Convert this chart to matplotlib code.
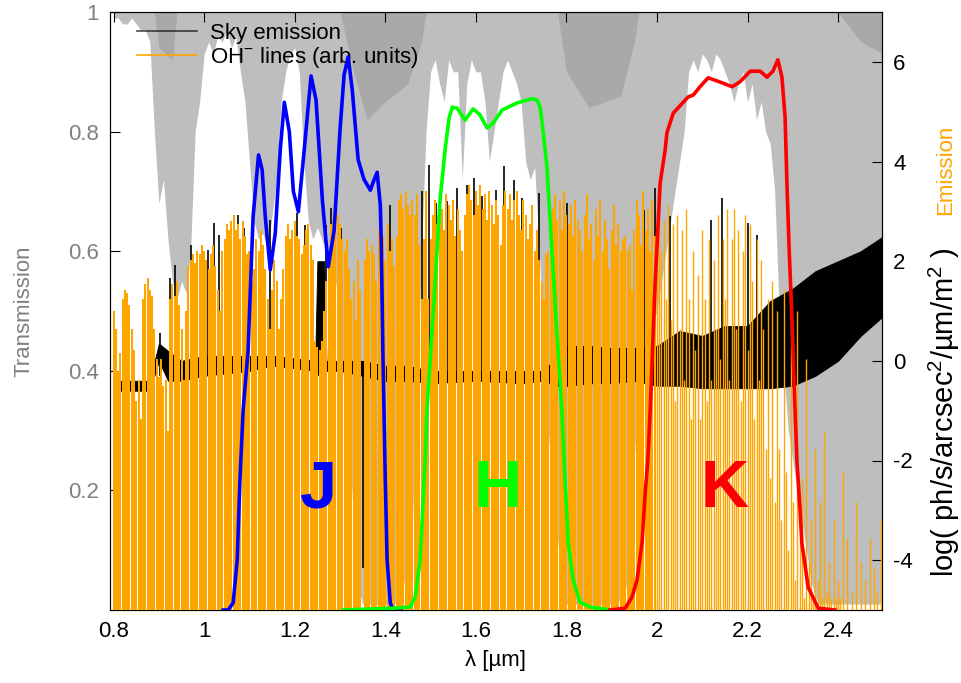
import numpy as np
import matplotlib
matplotlib.use("Agg")
import matplotlib.pyplot as plt
from matplotlib.lines import Line2D

plt.rcParams['font.family'] = ['Liberation Sans', 'DejaVu Sans']
plt.rcParams['mathtext.fontset'] = 'custom'
plt.rcParams['mathtext.rm'] = 'Liberation Sans'
plt.rcParams['mathtext.it'] = 'Liberation Sans:italic'
plt.rcParams['axes.unicode_minus'] = False

# atmospheric transmission, sampled every 0.01 um from 0.80 to 2.50
trans_lam = np.round(np.arange(0.80, 2.505, 0.01), 2)
trans_val = [
    0.99, 0.99, 0.98, 0.98, 0.99, 0.98, 0.97, 0.97, 0.95, 0.80,
    0.68, 0.72, 0.62, 0.55, 0.52, 0.55, 0.53, 0.60, 0.80, 0.85,
    0.93, 0.95, 0.93, 0.96, 0.95, 0.97, 0.94, 0.96, 0.90, 0.85,
    0.75, 0.65, 0.62, 0.63, 0.60, 0.66, 0.72, 0.85, 0.90, 0.93,
    0.94, 0.90, 0.75, 0.65, 0.62, 0.64, 0.62, 0.60, 0.58, 0.55,
    0.50, 0.35, 0.28, 0.15, 0.04, 0.01, 0.01, 0.01, 0.01, 0.01,
    0.01, 0.01, 0.01, 0.02, 0.04, 0.08, 0.15, 0.35, 0.60, 0.80,
    0.90, 0.92, 0.88, 0.85, 0.92, 0.90, 0.90, 0.72, 0.88, 0.92,
    0.90, 0.90, 0.85, 0.75, 0.80, 0.85, 0.90, 0.92, 0.90, 0.88,
    0.85, 0.75, 0.72, 0.74, 0.60, 0.45, 0.30, 0.20, 0.12, 0.06,
    0.01, 0.01, 0.01, 0.01, 0.01, 0.01, 0.01, 0.01, 0.01, 0.01,
    0.01, 0.01, 0.02, 0.03, 0.08, 0.25, 0.40, 0.45, 0.50, 0.48,
    0.50, 0.55, 0.60, 0.65, 0.70, 0.75, 0.80, 0.90, 0.92, 0.90,
    0.93, 0.92, 0.90, 0.93, 0.92, 0.90, 0.88, 0.85, 0.88, 0.90,
    0.85, 0.88, 0.82, 0.85, 0.80, 0.78, 0.70, 0.50, 0.40, 0.30,
    0.25, 0.20, 0.15, 0.10, 0.05, 0.02, 0.01, 0.01, 0.01, 0.01,
    0.01, 0.01, 0.01, 0.01, 0.01, 0.01, 0.01, 0.01, 0.01, 0.01,
    0.01,
]

# second (wetter) transmission case, darker gray near the top
dark_lam = [0.80, 0.89, 0.90, 0.93, 0.94, 1.30, 1.33, 1.36, 1.40, 1.45,
            1.48, 1.49, 1.78, 1.80, 1.85, 1.92, 1.95, 1.96, 2.40, 2.45, 2.50]
dark_val = [1.0, 1.0, 0.94, 0.92, 1.0, 1.0, 0.90, 0.82, 0.85, 0.88,
            0.95, 1.0, 1.0, 0.90, 0.84, 0.86, 0.95, 1.0, 1.0, 0.95, 0.93]

# OH lines (arb. units), every 0.005 um from 0.800 to 2.495
oh_lam = np.round(np.arange(0.800, 2.4975, 0.005), 3)
oh_h = [
    0.50, 0.47, 0.40, 0.43, 0.52, 0.535, 0.53, 0.51, 0.47, 0.435, 0.35, 0.385, 0.32, 0.52, 0.545, 0.555, 0.535, 0.525, 0.47, 0.42,
    0.39, 0.42, 0.375, 0.385, 0.30, 0.52, 0.545, 0.525, 0.55, 0.51, 0.47, 0.385, 0.50, 0.575, 0.585, 0.595, 0.58, 0.60, 0.595, 0.61,
    0.60, 0.585, 0.57, 0.595, 0.61, 0.575, 0.535, 0.50, 0.60, 0.62, 0.645, 0.635, 0.65, 0.66, 0.635, 0.645, 0.62, 0.65, 0.625, 0.595,
    0.60, 0.55, 0.57, 0.62, 0.60, 0.635, 0.61, 0.57, 0.52, 0.47, 0.535, 0.585, 0.55, 0.47, 0.52, 0.57, 0.625, 0.645, 0.62, 0.635,
    0.65, 0.625, 0.62, 0.595, 0.61, 0.635, 0.645, 0.61, 0.585, 0.45, 0.44, 0.435, 0.45, 0.50, 0.55, 0.60, 0.645, 0.652, 0.635, 0.66,
    0.645, 0.62, 0.60, 0.62, 0.57, 0.52, 0.55, 0.485, 0.585, 0.535, 0.0, 0.585, 0.62, 0.60, 0.61, 0.595, 0.55, 0.635, 0.652, 0.625,
    0.585, 0.645, 0.60, 0.62, 0.575, 0.625, 0.686, 0.695, 0.67, 0.70, 0.677, 0.66, 0.686, 0.66, 0.695, 0.61, 0.52, 0.62, 0.70, 0.52,
    0.62, 0.66, 0.686, 0.645, 0.70, 0.67, 0.635, 0.695, 0.677, 0.652, 0.686, 0.625, 0.67, 0.635, 0.60, 0.66, 0.695, 0.71, 0.686, 0.66,
    0.70, 0.677, 0.71, 0.67, 0.695, 0.652, 0.70, 0.677, 0.645, 0.686, 0.66, 0.61, 0.677, 0.70, 0.67, 0.695, 0.652, 0.686, 0.70, 0.66,
    0.635, 0.686, 0.66, 0.62, 0.645, 0.677, 0.60, 0.635, 0.585, 0.55, 0.52, 0.595, 0.60, 0.62, 0.67, 0.695, 0.652, 0.686, 0.635, 0.70,
    0.66, 0.645, 0.677, 0.625, 0.686, 0.652, 0.635, 0.60, 0.66, 0.695, 0.62, 0.645, 0.585, 0.67, 0.625, 0.686, 0.60, 0.652, 0.62, 0.57,
    0.635, 0.677, 0.61, 0.645, 0.60, 0.62, 0.625, 0.60, 0.61, 0.535, 0.635, 0.686, 0.66, 0.61, 0.70, 0.635, 0.67, 0.60, 0.686, 0.625,
    0.57, 0.66, 0.60, 0.652, 0.52, 0.677, 0.485, 0.645, 0.35, 0.66, 0.47, 0.635, 0.385, 0.67, 0.52, 0.32, 0.60, 0.435, 0.56, 0.32,
    0.635, 0.52, 0.35, 0.62, 0.385, 0.585, 0.47, 0.66, 0.42, 0.62, 0.52, 0.67, 0.385, 0.62, 0.67, 0.47, 0.635, 0.35, 0.60, 0.66,
    0.435, 0.645, 0.55, 0.32, 0.62, 0.385, 0.585, 0.47, 0.27, 0.52, 0.22, 0.55, 0.18, 0.50, 0.27, 0.15, 0.535, 0.23, 0.10, 0.485,
    0.18, 0.05, 0.50, 0.12, 0.22, 0.02, 0.42, 0.08, 0.15, 0.02, 0.27, 0.05, 0.18, 0.02, 0.30, 0.03, 0.08, 0.02, 0.15, 0.02,
    0.05, 0.02, 0.23, 0.0, 0.12, 0.0, 0.03, 0.0, 0.18, 0.0, 0.08, 0.0, 0.05, 0.0, 0.12, 0.0, 0.07, 0.03, 0.0, 0.15,
]

# sky emission, log(ph/s/arcsec^2/um/m^2): lower / upper envelope of the dense spectrum
sky_lam = [0.80, 0.85, 0.88, 0.90, 0.92, 0.95, 1.00, 1.10, 1.15, 1.20, 1.245, 1.25, 1.265,
           1.27, 1.30, 1.35, 1.40, 1.45, 1.50, 1.60, 1.70, 1.75, 1.78, 1.80, 1.85,
           1.90, 1.95, 2.00, 2.05, 2.10, 2.15, 2.20, 2.25, 2.30, 2.35, 2.40, 2.45, 2.50]
sky_lo = [-0.6, -0.6, -0.6, 0.0, -0.4, -0.4, -0.3, -0.2, -0.1, -0.15, -0.2, -0.28, -0.28,
          -0.2, -0.2, -0.3, -0.4, -0.4, -0.45, -0.4, -0.45, -0.4, -0.5, -0.5, -0.45,
          -0.45, -0.4, -0.5, -0.5, -0.55, -0.55, -0.55, -0.55, -0.5, -0.3, 0.0, 0.5, 0.9]
sky_hi = [-0.4, -0.4, -0.4, 0.35, 0.2, 0.0, 0.1, 0.1, 0.1, 0.05, 0.0, 2.0, 2.0,
          0.0, 0.0, 0.0, -0.1, -0.1, -0.2, -0.2, -0.2, -0.2, 0.1, 0.3, 0.3,
          0.25, 0.26, 0.3, 0.6, 0.5, 0.7, 0.7, 1.2, 1.45, 1.8, 2.0, 2.2, 2.5]

# strongest sky lines poking above the OH lines
peak_lam = [0.903, 0.925, 0.936, 0.965, 0.971, 1.009, 1.022, 1.033, 1.066, 1.075,
            1.088, 1.126, 1.146, 1.194, 1.205, 1.223, 1.269, 1.280, 1.302, 1.411,
            1.446, 1.481, 1.497, 1.512, 1.537, 1.559, 1.581, 1.596, 1.614, 1.645,
            1.662, 1.684, 1.702, 1.740, 1.801, 1.972, 1.996, 2.029, 2.119, 2.144,
            2.201, 2.221]
peak_val = [0.56, 1.66, 1.92, 1.82, 2.32, 2.22, 2.76, 2.52, 2.50, 2.92,
            2.66, 2.52, 2.82, 2.62, 2.96, 2.72, 2.72, 3.06, 2.66, 3.12,
            3.40, 3.40, 3.92, 3.16, 3.20, 3.46, 3.52, 3.66, 3.30, 3.42,
            3.90, 3.62, 3.26, 3.36, 3.16, 3.02, 3.46, 2.90, 2.82, 3.26,
            2.76, 2.52]
dip_lam = [1.350]
dip_val = [-4.15]

# filter transmission curves
j_lam = [1.042, 1.053, 1.064, 1.073, 1.079, 1.086, 1.097, 1.108, 1.120, 1.128,
         1.135, 1.146, 1.157, 1.168, 1.177, 1.188, 1.197, 1.208, 1.221, 1.236,
         1.247, 1.261, 1.274, 1.287, 1.300, 1.309, 1.318, 1.327, 1.340, 1.353,
         1.367, 1.375, 1.382, 1.389, 1.391, 1.395, 1.400, 1.404, 1.411, 1.417, 1.435]
j_tr = [0.0, 0.0, 0.012, 0.084, 0.217, 0.334, 0.435, 0.657, 0.761, 0.736,
        0.657, 0.569, 0.630, 0.769, 0.849, 0.800, 0.700, 0.666, 0.770, 0.893,
        0.853, 0.686, 0.574, 0.635, 0.803, 0.895, 0.925, 0.870, 0.753, 0.720,
        0.702, 0.719, 0.732, 0.677, 0.619, 0.418, 0.217, 0.084, 0.012, 0.0, 0.0]

h_lam = [1.307, 1.417, 1.455, 1.466, 1.477, 1.488, 1.492, 1.510, 1.521, 1.532,
         1.541, 1.548, 1.559, 1.576, 1.594, 1.609, 1.625, 1.638, 1.658, 1.691,
         1.724, 1.735, 1.742, 1.749, 1.757, 1.768, 1.779, 1.790, 1.797, 1.804,
         1.815, 1.830, 1.852, 1.896]
h_tr = [0.0, 0.003, 0.005, 0.022, 0.084, 0.251, 0.334, 0.547, 0.686, 0.769,
        0.823, 0.841, 0.839, 0.819, 0.838, 0.828, 0.806, 0.814, 0.836, 0.848,
        0.855, 0.853, 0.841, 0.798, 0.741, 0.602, 0.463, 0.334, 0.217, 0.112,
        0.050, 0.013, 0.005, 0.0]

k_lam = [1.896, 1.930, 1.945, 1.956, 1.967, 1.974, 1.980, 1.985, 1.996, 2.007,
         2.018, 2.022, 2.036, 2.058, 2.069, 2.080, 2.095, 2.113, 2.139, 2.166,
         2.183, 2.206, 2.228, 2.243, 2.256, 2.267, 2.276, 2.283, 2.287, 2.292,
         2.298, 2.305, 2.309, 2.316, 2.320, 2.334, 2.356, 2.393]
k_tr = [0.0, 0.003, 0.022, 0.050, 0.112, 0.196, 0.251, 0.334, 0.547, 0.714,
        0.769, 0.798, 0.831, 0.849, 0.858, 0.861, 0.875, 0.890, 0.883, 0.875,
        0.883, 0.901, 0.901, 0.891, 0.901, 0.920, 0.891, 0.824, 0.714, 0.602,
        0.490, 0.334, 0.251, 0.167, 0.112, 0.038, 0.003, 0.0]

band_names = ['J', 'H', 'K']
band_pos = [1.25, 1.647, 2.15]
band_colors = ['#0000ff', '#00ff00', '#ff0000']

x_ticks = [0.8, 1.0, 1.2, 1.4, 1.6, 1.8, 2.0, 2.2, 2.4]
x_labels = ['0.8', '1', '1.2', '1.4', '1.6', '1.8', '2', '2.2', '2.4']
t_ticks = [0.2, 0.4, 0.6, 0.8, 1.0]
t_labels = ['0.2', '0.4', '0.6', '0.8', '1']
e_ticks = [-4, -2, 0, 2, 4, 6]

GRAY_TXT = '#808080'

fig = plt.figure(figsize=(9.62, 6.83), dpi=100)
ax = fig.add_axes([110 / 962, 1 - 610 / 683, 772 / 962, 598 / 683])
ax.set_xlim(0.792, 2.497)
ax.set_ylim(0, 1)

# transmission: gray shows what the atmosphere absorbs
ax.fill_between(trans_lam, trans_val, 1, color='#bebebe', lw=0)
ax.fill_between(dark_lam, dark_val, 1, color='#a9a9a9', lw=0)

ax.set_xticks(x_ticks)
ax.set_xticklabels(x_labels)
ax.set_yticks(t_ticks)
ax.set_yticklabels(t_labels)
ax.tick_params(direction='in', top=True, right=False, labelsize=16, length=7, pad=8)
ax.tick_params(axis='y', labelcolor=GRAY_TXT)
ax.set_ylabel('Transmission', color=GRAY_TXT, fontsize=16, labelpad=24)
ax.set_xlabel('λ [µm]', fontsize=16, labelpad=6)

# sky emission on the right-hand log scale
ax2 = ax.twinx()
ax2.set_ylim(-5, 7)
ax2.fill_between(sky_lam, sky_lo, sky_hi, color='black', lw=0.6)
ax2.vlines(peak_lam, -0.3, peak_val, color='black', lw=1.2)
ax2.vlines(dip_lam, dip_val, -0.3, color='black', lw=1.2)
ax2.set_yticks(e_ticks)
ax2.tick_params(direction='in', labelsize=16, length=7, pad=8)

# OH lines, filters, labels
ax3 = ax.twinx()
ax3.set_ylim(0, 1)
ax3.axis('off')
dense = oh_lam < 2.0
oh_h = np.asarray(oh_h)
ax3.vlines(oh_lam[dense], 0, oh_h[dense], color='#ffa500', lw=1.4, zorder=1,
           antialiased=False)
ax3.vlines(oh_lam[~dense], 0, oh_h[~dense], color='#ffa500', lw=1.0, zorder=1)

for lam, tr, col in zip([j_lam, h_lam, k_lam], [j_tr, h_tr, k_tr], band_colors):
    ax3.plot(lam, tr, color=col, lw=2.6, zorder=3, solid_joinstyle='round')

for name, pos, col in zip(band_names, band_pos, band_colors):
    ax3.text(pos, 0.2, name, color=col, fontsize=48, fontweight='bold',
             ha='center', va='center', zorder=4)

handles = [Line2D([], [], color='black', lw=1.2, alpha=0.7),
           Line2D([], [], color='#ffa500', lw=1.2)]
leg = ax3.legend(handles, ['Sky emission', 'OH$^{-}$ lines (arb. units)'],
                 loc='upper left', bbox_to_anchor=(0.035, 0.982), frameon=False,
                 fontsize=16, handlelength=2.7, handletextpad=0.6,
                 labelspacing=0.05, borderaxespad=0, borderpad=0)
leg.set_zorder(2.5)

fig.text(944 / 962, 1 - 412 / 683, 'log( ph/s/arcsec$^2$/µm/m$^2$ )',
         rotation=90, ha='center', va='center', fontsize=21)
fig.text(946 / 962, 1 - 170 / 683, 'Emission', color='#ffa500',
         rotation=90, ha='center', va='center', fontsize=16)

fig.savefig('out.png', dpi=100)
